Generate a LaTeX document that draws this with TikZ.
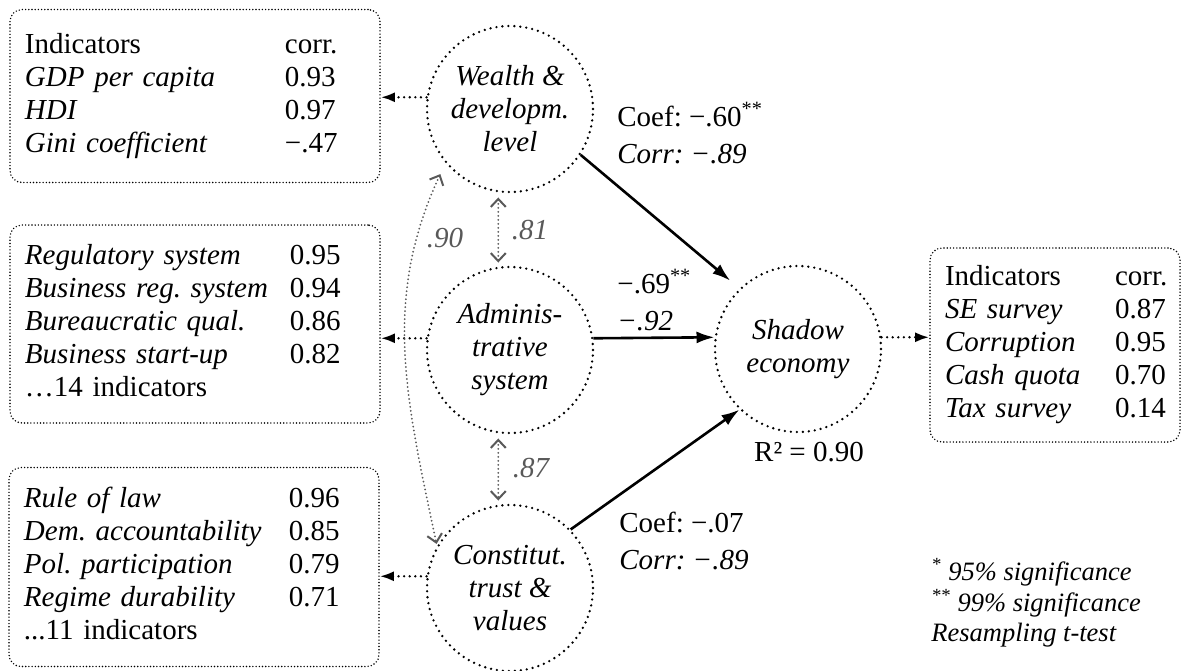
\documentclass[tikz,border=0pt]{standalone}
\usepackage{fontspec}
\setmainfont{Liberation Serif}
\usetikzlibrary{arrows.meta}

\begin{document}
\begin{tikzpicture}[x=0.5pt,y=0.5pt]
\fontsize{14.5}{16.5}\selectfont\frenchspacing
\useasboundingbox (0,0) rectangle (1184,-670);

\begin{scope}[every node/.style={circle,draw,line width=1.3pt,dash pattern=on 0pt off 3pt,line cap=round,minimum size=83pt,inner sep=0pt,align=center,font=\itshape}]
	%Latent constructs
	\node (wealth) at (510,-109) {Wealth \&\\developm.\\level};
	\node (admin) at (510,-350) {Adminis-\\trative\\system};
	\node (constit) at (510,-588) {Constitut.\\trust \&\\values};
	\node (shadow) at (798,-349) {Shadow\\economy};
\end{scope}

\begin{scope}[every node/.style={draw,rounded corners=6pt,line width=0.8pt,dash pattern=on 0pt off 1.6pt,line cap=round,inner xsep=7.5pt,inner ysep=0pt,text width=170pt}]
	%Indicator boxes
	\node[minimum height=86.5pt] (box1) at (195,-96) {%
		\begin{tabular}{@{}p{130pt}@{}l@{}}
		Indicators & corr.\\
		\textit{GDP per capita} & 0.93\\
		\textit{HDI} & 0.97\\
		\textit{Gini coefficient} & −.47
		\end{tabular}};
	\node[minimum height=99pt] (box2) at (195,-324) {%
		\begin{tabular}{@{}p{132.5pt}@{}l@{}}
		\textit{Regulatory system} & 0.95\\
		\textit{Business reg. system} & 0.94\\
		\textit{Bureaucratic qual.} & 0.86\\
		\textit{Business start-up} & 0.82\\
		…14 indicators &
		\end{tabular}};
	\node[minimum height=99.5pt] (box3) at (194,-567) {%
		\begin{tabular}{@{}p{132.5pt}@{}l@{}}
		\textit{Rule of law} & 0.96\\
		\textit{Dem. accountability} & 0.85\\
		\textit{Pol. participation} & 0.79\\
		\textit{Regime durability} & 0.71\\
		...11 indicators &
		\end{tabular}};
	\node[minimum height=97pt,text width=110pt] (box4) at (1055,-345) {%
		\begin{tabular}{@{}p{85pt}@{}l@{}}
		Indicators & corr.\\
		\textit{SE survey} & 0.87\\
		\textit{Corruption} & 0.95\\
		\textit{Cash quota} & 0.70\\
		\textit{Tax survey} & 0.14
		\end{tabular}};
\end{scope}

%Path labels
\node[anchor=west,inner sep=0pt,align=left] (coefwealth) at (617,-133) {Coef: −.60\textsuperscript{**}\\[2pt]\textit{Corr: −.89}};
\node[anchor=west,inner sep=0pt,align=left] (coefadmin) at (617,-300) {−.69\textsuperscript{**}\\[2pt]\textit{−.92}};
\node[anchor=west,inner sep=0pt,align=left] (coefconstit) at (619,-541) {Coef: −.07\\[2pt]\textit{Corr: −.89}};
\node[inner sep=0pt] (rsq) at (809,-452) {R² = 0.90};
\node[anchor=west,inner sep=0pt,align=left,font=\itshape\fontsize{13.25}{15.25}\selectfont] (legend) at (931,-603) {\textsuperscript{*} 95\% significance\\\textsuperscript{**} 99\% significance\\Resampling t-test};

\begin{scope}[text=black!65,font=\itshape]
	%Correlation labels
	\node (corrwa) at (530,-230) {.81};
	\node (corrac) at (531,-468) {.87};
	\node (corrwc) at (445,-238) {.90};
\end{scope}

\begin{scope}[line width=1.3pt,dash pattern=on 0pt off 2.8pt,line cap=round]
	%Measurement links
	\path [-{Latex[length=7pt,width=5pt]}] (wealth.172) edge (wealth.172 -| box1.east);
	\path [-{Latex[length=7pt,width=5pt]}] (admin.172) edge (admin.172 -| box2.east);
	\path [-{Latex[length=7pt,width=5pt]}] (constit.172) edge (constit.172 -| box3.east);
	\path [-{Latex[length=7pt,width=5pt]}] (shadow.8) edge (shadow.8 -| box4.west);
\end{scope}

\begin{scope}[draw=black!65,line width=1pt,dash pattern=on 0pt off 2pt,line cap=round]
	%Correlations
	\path [{Straight Barb[length=4pt,width=7.5pt]}-{Straight Barb[length=4pt,width=7.5pt]}] (wealth.-98) edge[shorten <=2.5pt,shorten >=2pt] (admin.98);
	\path [{Straight Barb[length=4pt,width=7.5pt]}-{Straight Barb[length=4pt,width=7.5pt]}] (admin.-98) edge[shorten <=2.5pt,shorten >=2pt] (constit.98);
	\path [{Straight Barb[length=4pt,width=7.5pt]}-{Straight Barb[length=4pt,width=7.5pt]}] (wealth.220) edge[out=245,in=102,shorten <=6pt,shorten >=1pt] (constit.150);
\end{scope}

\begin{scope}[line width=1.3pt,-{Latex[length=9pt,width=6pt]}]
	%Structural paths
	\path (wealth.-33) edge[shorten >=6pt] (shadow.134);
	\path (admin.8) edge (shadow.172);
	\path (constit.44) edge (shadow.226);
\end{scope}

\end{tikzpicture}
\end{document}
